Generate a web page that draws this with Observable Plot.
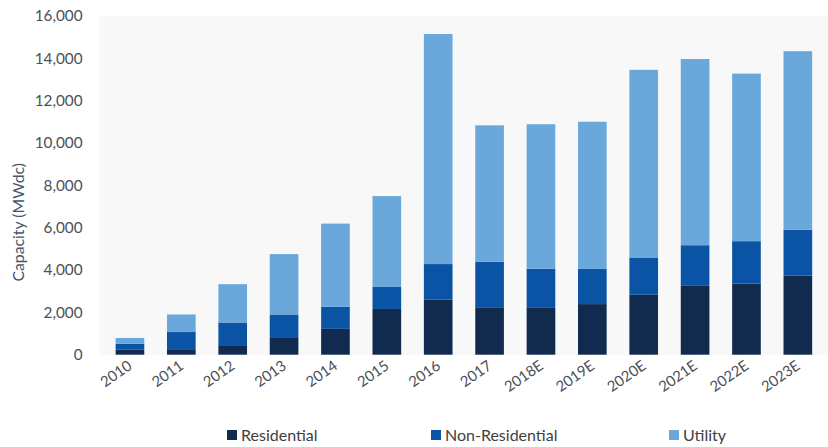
<!DOCTYPE html>
<html>
<head>
<meta charset="utf-8">
<script src="https://cdn.jsdelivr.net/npm/d3@7"></script>
<script src="https://cdn.jsdelivr.net/npm/@observablehq/plot@0.6"></script>
<style>
  html, body { margin: 0; padding: 0; background: #ffffff; overflow: hidden; width: 828px; height: 447px; }
  #chart { position: relative; width: 828px; height: 447px; overflow: hidden; }
  #legend { position: absolute; top: 425px; left: 0; width: 828px; height: 20px; font-family: Lato, "Open Sans", sans-serif; font-size: 16px; color: #404040; }
  .item { position: absolute; display: flex; align-items: center; white-space: nowrap; }
  .sw { width: 10px; height: 10px; margin-right: 4px; }
</style>
</head>
<body>
<div id="chart"></div>
<script>
const years = ["2010","2011","2012","2013","2014","2015","2016","2017","2018E","2019E","2020E","2021E","2022E","2023E"];
const series = ["Residential", "Non-Residential", "Utility"];
const colors = ["#112b4f", "#0b53a4", "#6aa8dc"];
const residential    = [250, 260, 450, 790, 1220, 2160, 2610, 2210, 2210, 2390, 2830, 3250, 3360, 3730];
const nonResidential = [270, 810, 1070, 1110, 1040, 1040, 1670, 2180, 1850, 1660, 1760, 1920, 2000, 2170];
const utility        = [270, 830, 1810, 2850, 3930, 4290, 10860, 6440, 6820, 6950, 8860, 8790, 7910, 8430];
const yTicks = [0, 2000, 4000, 6000, 8000, 10000, 12000, 14000, 16000];
const legendX = [227, 431, 669];

const values = [residential, nonResidential, utility];
const rows = [];
series.forEach((s, si) => years.forEach((y, i) => rows.push({year: y, type: s, value: values[si][i]})));

const chart = Plot.plot({
  width: 838,
  height: 410,
  marginTop: 16,
  marginLeft: 100,
  marginRight: 0,
  marginBottom: 51,
  style: {fontFamily: "Lato, 'Open Sans', sans-serif", fontSize: "15px", color: "#4a4f58", background: "transparent"},
  x: {domain: years, paddingInner: 0.45, paddingOuter: 0.225, label: null},
  y: {domain: [0, 16000], label: null},
  color: {domain: series, range: colors},
  marks: [
    Plot.frame({fill: "#f8f8f8", stroke: null}),
    Plot.barY(rows, Plot.stackY({x: "year", y: "value", fill: "type", order: series})),
    Plot.axisY({ticks: yTicks, tickSize: 0, tickPadding: 17, tickFormat: d3.format(","), label: null, fontSize: 15.5}),
    Plot.axisX({tickSize: 0, tickRotate: -35, tickPadding: 9, label: null, fontSize: 15})
  ]
});

const svg = d3.select(chart);
svg.append("text")
  .attr("transform", "translate(20,225) rotate(-90)")
  .attr("text-anchor", "middle")
  .attr("dominant-baseline", "middle")
  .attr("fill", "#44546a")
  .attr("font-size", 16)
  .attr("font-family", "Lato, 'Open Sans', sans-serif")
  .text("Capacity (MWdc)");

document.getElementById("chart").appendChild(chart);

const legend = document.createElement("div");
legend.id = "legend";
series.forEach((s, i) => {
  const it = document.createElement("div");
  it.className = "item";
  it.style.left = legendX[i] + "px";
  const sw = document.createElement("span");
  sw.className = "sw";
  sw.style.background = colors[i];
  const tx = document.createElement("span");
  tx.textContent = s;
  it.appendChild(sw);
  it.appendChild(tx);
  legend.appendChild(it);
});
document.getElementById("chart").appendChild(legend);
</script>
</body>
</html>
